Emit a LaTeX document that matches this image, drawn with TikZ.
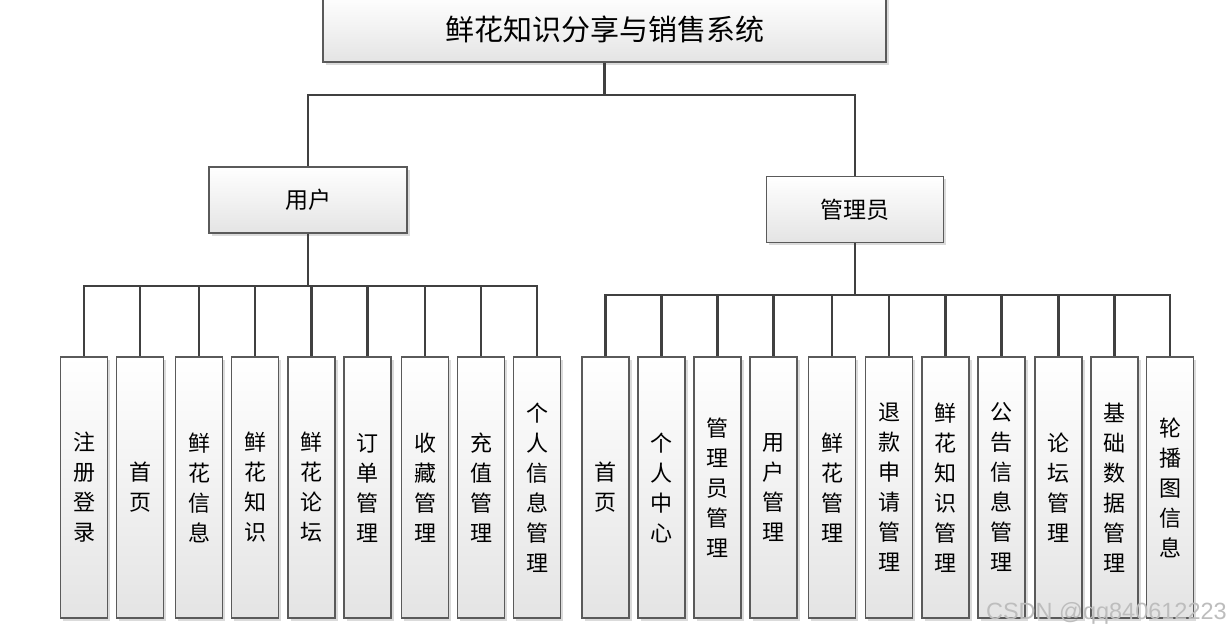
\documentclass[tikz,border=0pt]{standalone}
\usepackage{fontspec}
\setmainfont{Noto Sans CJK SC}
\newfontfamily\wmfont{Liberation Sans}
\usetikzlibrary{shadows}
\definecolor{lineC}{HTML}{404040}
\definecolor{boxC}{HTML}{5A5A5A}
\definecolor{botC}{HTML}{E4E4E4}
\definecolor{wmC}{HTML}{BDBDBD}
\begin{document}
\begin{tikzpicture}[x=1pt,y=-1pt,
  box/.style={draw=boxC, line width=1.1pt, top color=white, bottom color=botC,
    inner sep=0pt, text=black,
    drop shadow={shadow xshift=2.5pt, shadow yshift=-2.5pt, fill=black, opacity=0.14}},
  leaf/.style={box, minimum width=47pt, minimum height=261pt, align=center,
    font=\fontsize{22}{30}\selectfont},
  midbox/.style={box, minimum height=66pt, font=\fontsize{23}{28}\selectfont},
  conn/.style={draw=lineC, line width=2.8pt}]
\useasboundingbox (0,0) rectangle (1232,632);
\clip (0,0) rectangle (1232,632);
\fill[white] (0,0) rectangle (1232,632);

% top
\node[box, minimum width=563pt, minimum height=66pt, font=\fontsize{29}{32}\selectfont] (top) at (604.5,29) {鲜花知识分享与销售系统};
\node[midbox, minimum width=198pt] (user) at (308,200) {用户};
\node[midbox, minimum width=177pt] (admin) at (855,209.5) {管理员};

\coordinate (b0) at (604.5,95);
\coordinate (bu) at (308,286);
\coordinate (ba) at (855,295);

% user leaves
\foreach \n/\x/\t in {u1/84/注\\册\\登\\录, u2/140/首\\页, u3/199/鲜\\花\\信\\息, u4/255/鲜\\花\\知\\识, u5/311.5/鲜\\花\\论\\坛, u6/367.5/订\\单\\管\\理, u7/425/收\\藏\\管\\理, u8/481/充\\值\\管\\理, u9/537/个\\人\\信\\息\\管\\理}
  \node[leaf] (\n) at (\x,487.5) {\t};

% admin leaves
\foreach \n/\x/\t in {a1/605.5/首\\页, a2/661.5/个\\人\\中\\心, a3/717.5/管\\理\\员\\管\\理, a4/773.5/用\\户\\管\\理, a5/832/鲜\\花\\管\\理, a6/889/退\\款\\申\\请\\管\\理, a7/945.5/鲜\\花\\知\\识\\管\\理, a8/1001.5/公\\告\\信\\息\\管\\理, a9/1058.5/论\\坛\\管\\理, a10/1114.5/基\\础\\数\\据\\管\\理, a11/1170/轮\\播\\图\\信\\息}
  \node[leaf] (\n) at (\x,487.5) {\t};

% connectors
\draw[conn] (top.south) -- (b0);
\draw[conn] (b0) -| (user.north);
\draw[conn] (b0) -| (admin.north);
\draw[conn] (user.south) -- (bu);
\foreach \n in {u1,u2,u3,u4,u5,u6,u7,u8,u9}
  \draw[conn] (bu) -| (\n.north);
\draw[conn] (admin.south) -- (ba);
\foreach \n in {a1,a2,a3,a4,a5,a6,a7,a8,a9,a10,a11}
  \draw[conn] (ba) -| (\n.north);

% watermark
\node[anchor=base east, text=wmC, font=\wmfont\fontsize{23.5}{26}\selectfont, inner sep=0pt] (wm) at (1227,619) {CSDN @qq840612223};
\end{tikzpicture}
\end{document}
